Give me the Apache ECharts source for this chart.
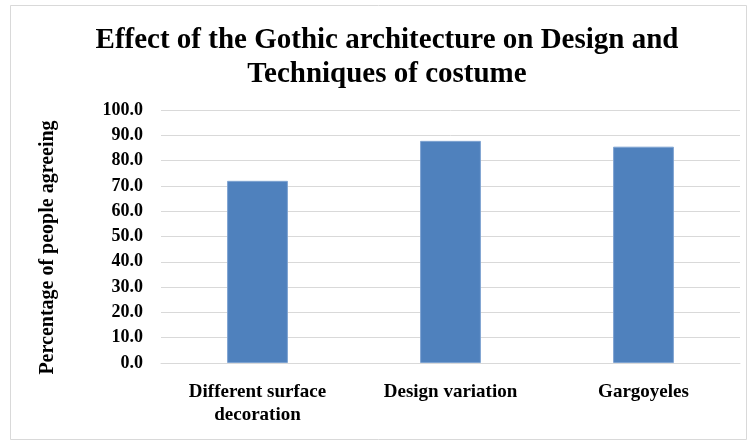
<!DOCTYPE html>
<html>
<head>
<meta charset="utf-8">
<script src="https://cdn.jsdelivr.net/npm/echarts@6/dist/echarts.min.js"></script>
<style>
  html, body { margin: 0; padding: 0; background: #fff; }
  #chart { width: 752px; height: 443px; }
</style>
</head>
<body>
<div id="chart"></div>
<script>
// Survey results: share of respondents agreeing with each design influence
const categories = ['Different surface\ndecoration', 'Design variation', 'Gargoyeles'];
const agreeing = [72.0, 87.8, 85.5];
const yTicks = { min: 0, max: 100, interval: 10 };

const serif = '"Liberation Serif", "Times New Roman", serif';
const chart = echarts.init(document.getElementById('chart'), null, { renderer: 'canvas' });

chart.setOption({
  backgroundColor: '#ffffff',
  animation: false,
  graphic: [{
    type: 'rect',
    shape: { x: 10.5, y: 5.5, width: 736, height: 434 },
    style: { fill: 'none', stroke: '#d9d9d9', lineWidth: 1 },
    silent: true
  }],
  title: {
    text: 'Effect of the Gothic architecture on Design and\nTechniques of costume',
    left: 382,
    textAlign: 'center',
    top: 19,
    textStyle: {
      fontFamily: serif,
      fontWeight: 'bold',
      fontSize: 29,
      lineHeight: 34,
      color: '#000'
    }
  },
  grid: { left: 161, right: 12, top: 110, bottom: 80 },
  xAxis: {
    type: 'category',
    data: categories,
    axisTick: { show: false },
    axisLine: { lineStyle: { color: '#d9d9d9', width: 1 } },
    axisLabel: {
      fontFamily: serif,
      fontWeight: 'bold',
      fontSize: 19,
      lineHeight: 23,
      color: '#000',
      margin: 18,
      interval: 0
    }
  },
  yAxis: {
    type: 'value',
    min: yTicks.min,
    max: yTicks.max,
    interval: yTicks.interval,
    name: 'Percentage of people agreeing',
    nameLocation: 'middle',
    nameGap: 103,
    nameTextStyle: {
      fontFamily: serif,
      fontWeight: 'bold',
      fontSize: 20,
      color: '#000',
      padding: [0, 22, 0, 0]
    },
    axisLine: { show: false },
    axisTick: { show: false },
    splitLine: { lineStyle: { color: '#d9d9d9', width: 1 } },
    axisLabel: {
      fontFamily: serif,
      fontWeight: 'bold',
      fontSize: 18,
      color: '#000',
      margin: 18,
      formatter: v => v.toFixed(1)
    }
  },
  series: [{
    type: 'bar',
    data: agreeing,
    barWidth: '31.5%',
    itemStyle: {
      color: '#4f81bd',
      borderColor: '#7ea3d1',
      borderWidth: 1
    }
  }]
});
</script>
</body>
</html>
